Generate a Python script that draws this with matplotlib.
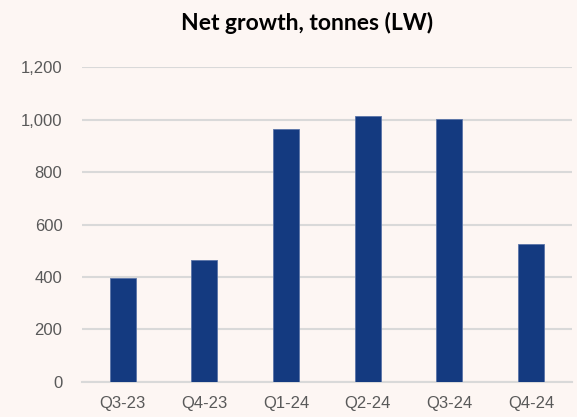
import matplotlib.pyplot as plt
from matplotlib.ticker import FuncFormatter

quarters = ["Q3-23", "Q4-23", "Q1-24", "Q2-24", "Q3-24", "Q4-24"]
net_growth = [396, 465, 966, 1013, 1002, 526]

bg = "#FDF6F3"
bar_color = "#143A80"

fig = plt.figure(figsize=(5.77, 4.17), dpi=100, facecolor=bg)
ax = fig.add_axes([0.142, 0.084, 0.849, 0.755], facecolor=bg)

ax.bar(quarters, net_growth, width=0.32, color=bar_color, edgecolor="#5A74A8", linewidth=0.6, zorder=3)

ax.set_ylim(0, 1200)
ax.set_xlim(-0.5, len(quarters) - 0.5)
ax.set_yticks(range(0, 1201, 200))
ax.yaxis.set_major_formatter(FuncFormatter(lambda v, p: f"{int(v):,}"))
ax.grid(axis="y", color="#D9D9D9", linewidth=1.5, zorder=0)
ax.set_axisbelow(True)

for s in ["top", "right", "left"]:
    ax.spines[s].set_visible(False)
ax.spines["bottom"].set_color("#D9D9D9")
ax.spines["bottom"].set_linewidth(1.5)

ax.tick_params(axis="both", length=0, labelsize=12, labelcolor="#595959", pad=10)
ax.tick_params(axis="y", pad=14)
for lbl in ax.get_xticklabels() + ax.get_yticklabels():
    lbl.set_fontfamily("Liberation Sans")

fig.text(0.533, 0.945, "Net growth, tonnes (LW)", ha="center", va="center",
         fontsize=16.5, fontweight="bold", fontfamily="Lato", color="#000000")

fig.savefig("out.png", dpi=100, facecolor=bg)
